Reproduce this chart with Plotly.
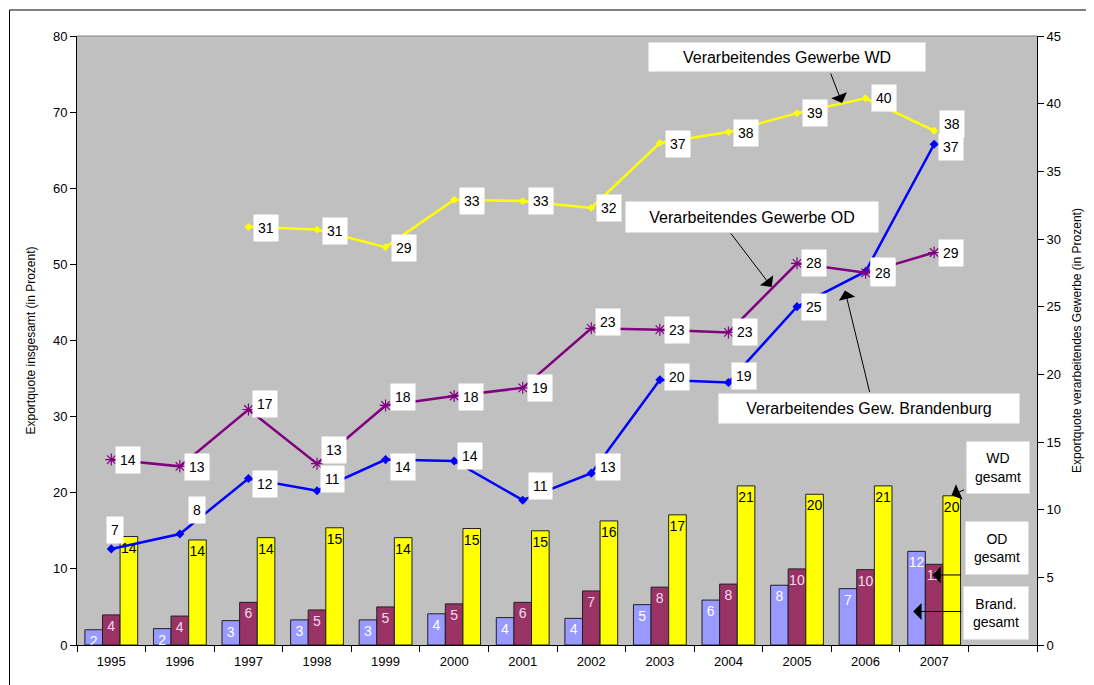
import plotly.graph_objects as go

# ---------------- data ----------------
years = ['1995', '1996', '1997', '1998', '1999', '2000', '2001',
         '2002', '2003', '2004', '2005', '2006', '2007']

# bars (left axis) - Exportquote insgesamt
brand_gesamt = [2.0, 2.15, 3.2, 3.3, 3.3, 4.1, 3.6, 3.5, 5.3, 5.9, 7.85, 7.4, 12.3]
od_gesamt = [3.95, 3.8, 5.6, 4.6, 5.0, 5.4, 5.6, 7.1, 7.6, 8.0, 10.0, 9.9, 10.6]
wd_gesamt = [14.25, 13.8, 14.1, 15.4, 14.1, 15.3, 15.0, 16.3, 17.1, 20.9, 19.8, 20.9, 19.6]

# lines (right axis) - Exportquote verarbeitendes Gewerbe
brand_vg = [7.1, 8.2, 12.3, 11.4, 13.7, 13.6, 10.7, 12.7, 19.6, 19.4, 25.0, 27.6, 37.0]
od_vg = [13.7, 13.2, 17.4, 13.4, 17.7, 18.4, 19.0, 23.4, 23.3, 23.1, 28.2, 27.5, 29.0]
wd_vg = [None, None, 30.9, 30.7, 29.4, 32.9, 32.8, 32.3, 37.1, 37.9, 39.3, 40.4, 38.0]

categories = years + [' ']

# ---------------- styles ----------------
FONT = 'Liberation Sans, Arial, sans-serif'
C_BLUE_BAR = '#9999FF'
C_PURP_BAR = '#993366'
C_YELL = '#FFFF00'
C_BLUE = '#0000FF'
C_PURP = '#800080'

# label offsets (pixels) for line value boxes
blue_dx = [4, 17, 17, 15, 17, 16, 18, 17, 17, 16, 17, 17, 17]
blue_dy = [19, 24, -5, 12, -7, 5, 14, 6, 3, 6, 0, 0, -3]
purp_dy = [0, -1, 6, 14, 8, -1, 0, 6, 0, 0, 0, 0, 0]
yell_dy = [0, 0, -1, -1, -1, -1, 0, 0, -1, -1, 0, 0, 7]

fig = go.Figure()

bar_common = dict(texttemplate='%{y:.0f}', textposition='inside',
                  insidetextanchor='end', textangle=0, constraintext='none',
                  cliponaxis=False, marker_line_color='#202020',
                  marker_line_width=1, hoverinfo='skip')

fig.add_trace(go.Bar(x=years, y=brand_gesamt, name='Brand. gesamt',
                     marker_color=C_BLUE_BAR,
                     textfont=dict(family=FONT, size=14, color='#FFFFFF'),
                     **bar_common))
fig.add_trace(go.Bar(x=years, y=od_gesamt, name='OD gesamt',
                     marker_color=C_PURP_BAR,
                     textfont=dict(family=FONT, size=14, color='#F4DCEC'),
                     **bar_common))
fig.add_trace(go.Bar(x=years, y=wd_gesamt, name='WD gesamt',
                     marker_color=C_YELL,
                     textfont=dict(family=FONT, size=14, color='#000000'),
                     **bar_common))

fig.add_trace(go.Scatter(x=years, y=brand_vg, yaxis='y2', mode='lines+markers',
                         line=dict(color=C_BLUE, width=2.5),
                         marker=dict(symbol='diamond', size=7, color=C_BLUE),
                         name='Verarbeitendes Gew. Brandenburg'))
fig.add_trace(go.Scatter(x=years, y=od_vg, yaxis='y2', mode='lines+markers',
                         line=dict(color=C_PURP, width=2.5),
                         marker=dict(symbol='asterisk-open', size=10,
                                     line=dict(color=C_PURP, width=1.2)),
                         name='Verarbeitendes Gewerbe OD'))
fig.add_trace(go.Scatter(x=years, y=wd_vg, yaxis='y2', mode='lines+markers',
                         line=dict(color=C_YELL, width=2.5),
                         marker=dict(symbol='diamond', size=6, color=C_YELL),
                         connectgaps=False,
                         name='Verarbeitendes Gewerbe WD'))

annotations = []
lab_font = dict(family=FONT, size=14, color='#000000')


def add_labels(vals, dxs, dys):
    for i, (v, dx, dy) in enumerate(zip(vals, dxs, dys)):
        if v is None:
            continue
        annotations.append(dict(x=i, y=v, xref='x', yref='y2',
                                text=f'{round(v):d}', showarrow=False,
                                bgcolor='#FFFFFF', borderpad=4, height=18,
                                font=lab_font, xshift=dx, yshift=dy,
                                xanchor='center', yanchor='middle'))


add_labels(brand_vg, blue_dx, blue_dy)
add_labels(od_vg, [17] * 13, purp_dy)
add_labels(wd_vg, [18] * 13, yell_dy)

# callout boxes (paper coordinates of plot area)
box_font = dict(family=FONT, size=16, color='#000000')
small_font = dict(family=FONT, size=14, color='#000000')
callouts = [
    ('Verarbeitendes Gewerbe WD', 0.740, 0.966, 268, 20, box_font),
    ('Verarbeitendes Gewerbe OD', 0.703, 0.703, 244, 22, box_font),
    ('Verarbeitendes Gew. Brandenburg', 0.825, 0.389, 292, 21, box_font),
    ('WD<br>gesamt', 0.959, 0.291, 54, 43, small_font),
    ('OD<br>gesamt', 0.958, 0.159, 54, 44, small_font),
    ('Brand.<br>gesamt', 0.957, 0.0525, 56, 44, small_font),
]
for txt, xp, yp, w, h, f in callouts:
    annotations.append(dict(x=xp, y=yp, xref='paper', yref='paper', text=txt,
                            showarrow=False, bgcolor='#FFFFFF', width=w,
                            height=h, borderpad=4, font=f, align='center',
                            valign='middle', xanchor='center',
                            yanchor='middle'))

arrows = [
    (0.797, 0.890, -12, -31),
    (0.7236, 0.588, -42, -55),
    (0.800, 0.582, 25, 103),
    (0.911, 0.246, 14, -6),
    (0.891, 0.115, 30, 0),
    (0.871, 0.055, 50, 0),
]
for xp, yp, ax, ay in arrows:
    annotations.append(dict(x=xp, y=yp, xref='paper', yref='paper', text='',
                            showarrow=True, arrowhead=1, arrowsize=2.8,
                            arrowwidth=1, arrowcolor='#000000',
                            ax=ax, ay=ay, axref='pixel', ayref='pixel',
                            standoff=0, startstandoff=0))

axis_font = dict(family=FONT, size=13, color='#000000')

fig.update_layout(
    width=1086, height=677,
    margin=dict(l=69, r=57, t=28, b=40, autoexpand=False),
    paper_bgcolor='#FFFFFF', plot_bgcolor='#C0C0C0',
    barmode='group', bargap=0.23, bargroupgap=0.0,
    showlegend=False,
    font=dict(family=FONT, color='#000000'),
    xaxis=dict(type='category', categoryorder='array', categoryarray=categories,
               range=[-0.5, 13.5], tickson='boundaries', ticks='outside',
               ticklen=6, tickcolor='#000000', showline=True,
               linecolor='#000000', linewidth=1, showgrid=False,
               ticklabelstandoff=4,
               tickfont=dict(family=FONT, size=13, color='#000000'),
               zeroline=False),
    yaxis=dict(range=[0, 80], dtick=10, ticks='outside', ticklen=6,
               tickcolor='#000000', showline=True, linecolor='#000000',
               linewidth=1, showgrid=False, zeroline=False,
               tickfont=axis_font,
               title=dict(text='Exportquote insgesamt (in Prozent)',
                          font=dict(family=FONT, size=12, color='#000000'),
                          standoff=14)),
    yaxis2=dict(range=[0, 45], dtick=5, overlaying='y', side='right',
                ticks='outside', ticklen=6, tickcolor='#000000',
                showline=True, linecolor='#000000', linewidth=1,
                showgrid=False, zeroline=False, tickfont=axis_font,
                title=dict(text='Exportquote verarbeitendes Gewerbe (in Prozent)',
                           font=dict(family=FONT, size=12, color='#000000'),
                           standoff=12)),
    annotations=annotations,
    shapes=[
        dict(type='line', xref='paper', yref='paper', x0=0, x1=1, y0=1, y1=1,
             line=dict(color='#808080', width=1)),
        dict(type='line', xref='paper', yref='paper', x0=-0.0703, x1=1.07,
             y0=1.0427, y1=1.0427, line=dict(color='#000000', width=1)),
        dict(type='line', xref='paper', yref='paper', x0=-0.0703, x1=-0.0703,
             y0=1.0427, y1=-0.08, line=dict(color='#000000', width=1)),
    ],
)

fig.write_html('out.html')
